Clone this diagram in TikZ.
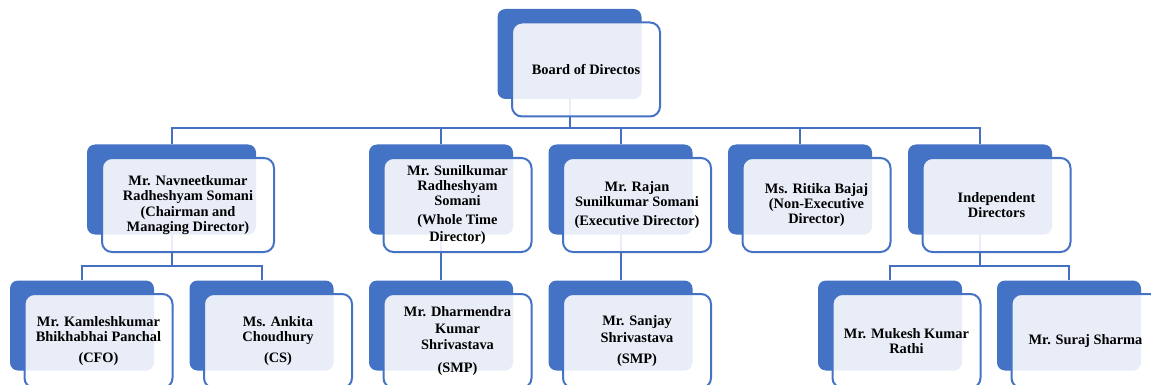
\documentclass[tikz,border=0pt]{standalone}
\usepackage{fontspec}
\setmainfont{Liberation Serif}
\usepackage{xcolor}
\usepackage{tikz}

\definecolor{accent}{HTML}{4472C4}
\definecolor{linkblue}{HTML}{4570BF}

\begin{document}
\begin{tikzpicture}[x=1pt,y=-1pt,
  back/.style={fill=accent, rounded corners=8pt, inner sep=0pt,
    minimum width=144pt, minimum height=90pt},
  front/.style={draw=accent, line width=2pt, fill=white, fill opacity=0.88,
    text opacity=1, rounded corners=10pt, inner sep=0pt,
    minimum width=148pt, minimum height=94pt, align=center,
    font=\fontsize{14.4}{15.3}\selectfont\bfseries},
  link/.style={draw=linkblue, line width=2pt}]
  \useasboundingbox (0,0) rectangle (1151,385);
  \clip (0,0) rectangle (1151,385);

  % Back tiles
  \node[back] (bd) at (569.5,54) {};
  \node[back, minimum width=169pt] (nav) at (171.5,189.5) {};
  \node[back] (sun) at (441,189.5) {};
  \node[back] (raj) at (620.5,189.5) {};
  \node[back] (rit) at (800,189.5) {};
  \node[back] (ind) at (980,189.5) {};
  \node[back] (kam) at (82,325.5) {};
  \node[back] (ank) at (261.5,325.5) {};
  \node[back] (dha) at (441,325.5) {};
  \node[back] (san) at (620.5,325.5) {};
  \node[back] (muk) at (890,325.5) {};
  \node[back] (sur) at (1069,325.5) {};

  % Reporting lines
  \foreach \n in {nav,sun,raj,rit,ind}
    \draw[link] (bd.south) -- ++(0,29) -| (\n.north);
  \foreach \n in {kam,ank}
    \draw[link] (nav.south) -- ++(0,31) -| (\n.north);
  \draw[link] (sun.south) -- (dha.north);
  \draw[link] (raj.south) -- (san.north);
  \foreach \n in {muk,sur}
    \draw[link] (ind.south) -- ++(0,31) -| (\n.north);

  % Front cards
  \node[front] (bdtext) at ([shift={(16.5,15.5)}]bd.center) {Board of Directos};
  \node[front, minimum width=172pt] (navtext) at ([shift={(16.5,15.5)}]nav.center)
    {Mr. Navneetkumar\\ Radheshyam Somani\\ (Chairman and\\ Managing Director)};
  \node[front] (suntext) at ([shift={(16.5,15.5)}]sun.center)
    {Mr. Sunilkumar\\ Radheshyam\\[-1pt] Somani\\[4pt] (Whole Time\\[1.5pt] Director)};
  \node[front] (rajtext) at ([shift={(16.5,15.5)}]raj.center)
    {Mr. Rajan\\ Sunilkumar Somani\\[4pt] (Executive Director)};
  \node[front] (rittext) at ([shift={(16.5,15.5)}]rit.center)
    {Ms. Ritika Bajaj\\ (Non-Executive\\ Director)};
  \node[front] (indtext) at ([shift={(16.5,15.5)}]ind.center)
    {Independent\\ Directors};
  \node[front] (kamtext) at ([shift={(16.5,15.5)}]kam.center)
    {Mr. Kamleshkumar\\ Bhikhabhai Panchal\\[5pt] (CFO)};
  \node[front] (anktext) at ([shift={(16.5,15.5)}]ank.center)
    {Ms. Ankita\\ Choudhury\\[5pt] (CS)};
  \node[front] (dhatext) at ([shift={(16.5,15.5)}]dha.center)
    {Mr. Dharmendra\\[1.5pt] Kumar\\[1pt] Shrivastava\\[7pt] (SMP)};
  \node[front] (santext) at ([shift={(16.5,15.5)}]san.center)
    {Mr. Sanjay\\[1.5pt] Shrivastava\\[5pt] (SMP)};
  \node[front] (muktext) at ([shift={(16.5,15.5)}]muk.center)
    {Mr. Mukesh Kumar\\ Rathi};
  \node[front] (surtext) at ([shift={(16.5,15.5)}]sur.center)
    {Mr. Suraj Sharma};
\end{tikzpicture}
\end{document}
